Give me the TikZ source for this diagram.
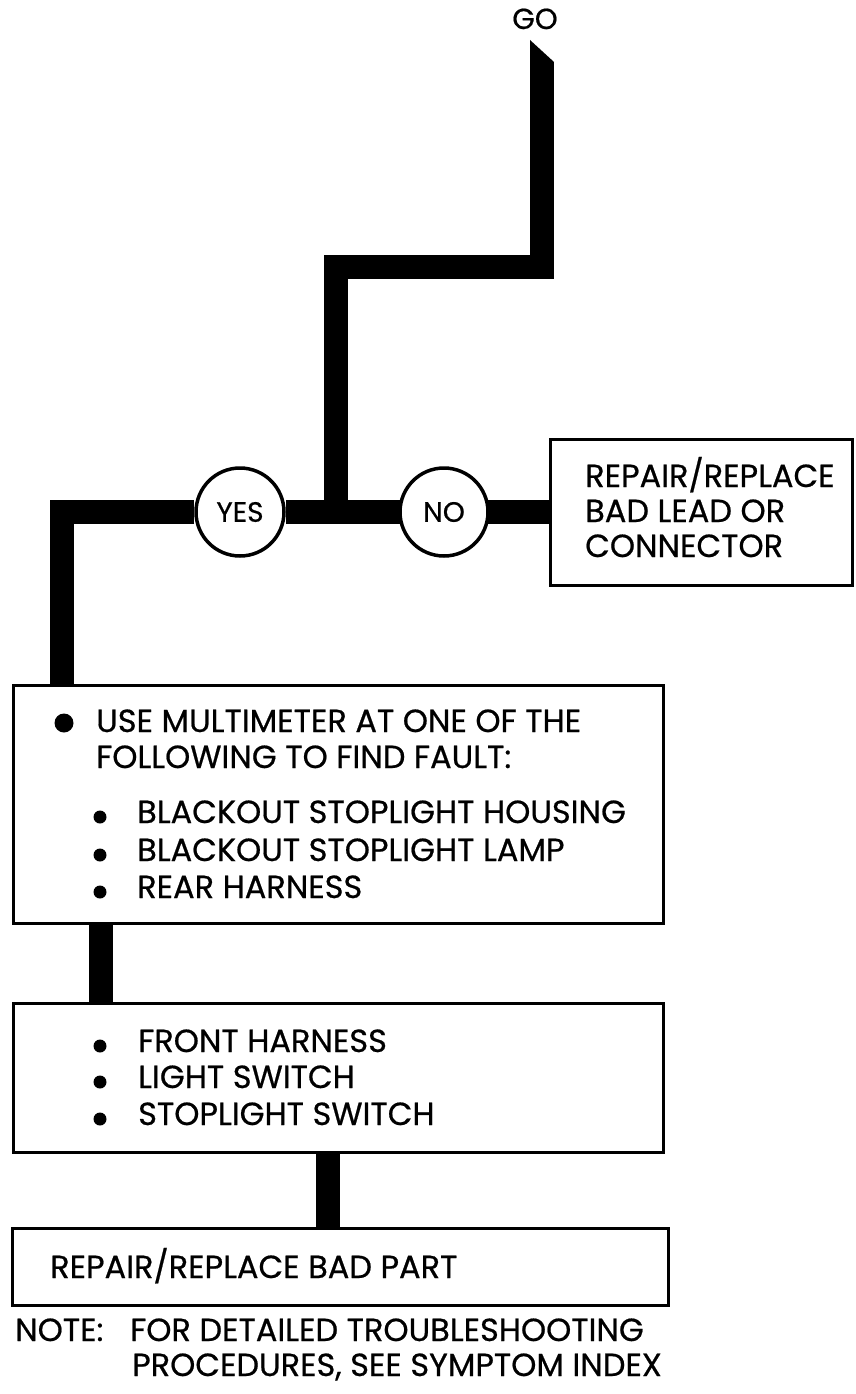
\documentclass[tikz,border=0pt]{standalone}
\usepackage{fontspec}
\setmainfont{Poppins}[FakeBold=0.6]
\usetikzlibrary{positioning,backgrounds}

\begin{document}
\begin{tikzpicture}[x=1pt,y=-1pt,every node/.style={font=\fontsize{32}{37}\selectfont},
  flow/.style={line width=24pt},
  box/.style={draw,line width=3pt,fill=white,inner sep=0pt},
  answer/.style={circle,draw,line width=3.5pt,fill=white,minimum size=88pt,inner sep=0pt,font=\fontsize{28}{33}\selectfont},
  txt/.style={anchor=base west,inner sep=0pt},
  dot/.style={circle,fill,inner sep=0pt,minimum size=13pt}]
\useasboundingbox (0,0) rectangle (856,1394);
% start and answers
\node[anchor=base,inner sep=0pt,font=\fontsize{29}{34}\selectfont] (go) at (535,29) {GO};
\node[answer] (yes) at (240,512) {YES};
\node[answer] (no) at (444,512) {NO};
% boxes
\node[box,minimum width=302pt,minimum height=146pt] (fix) at (701,512) {};
\node[txt] (fix1) at (585,487) {REPAIR/REPLACE};
\node[txt] (fix2) at (585,522) {BAD LEAD OR};
\node[txt] (fix3) at (585,557) {CONNECTOR};
\node[box,minimum width=650pt,minimum height=238pt] (meter) at (338,804) {};
\node[dot,minimum size=19pt] (lead) at (64,723) {};
\node[txt] (use) at (96,732) {USE MULTIMETER AT ONE OF THE};
\node[txt] (follow) at (96,768) {FOLLOWING TO FIND FAULT:};
\node[dot] (d1) at (100,817) {};
\node[txt] (housing) at (137,823) {BLACKOUT STOPLIGHT HOUSING};
\node[dot] (d2) at (100,855) {};
\node[txt] (lamp) at (137,861) {BLACKOUT STOPLIGHT LAMP};
\node[dot] (d3) at (100,892) {};
\node[txt] (rear) at (137,898) {REAR HARNESS};
\node[box,minimum width=650pt,minimum height=149pt] (more) at (338,1077.5) {};
\node[dot] (d4) at (100,1046) {};
\node[txt] (front) at (138,1052) {FRONT HARNESS};
\node[dot] (d5) at (100,1082) {};
\node[txt] (light) at (138,1088) {LIGHT SWITCH};
\node[dot] (d6) at (100,1119) {};
\node[txt] (stop) at (138,1125) {STOPLIGHT SWITCH};
\node[box,minimum width=656pt,minimum height=77pt] (part) at (340,1266.5) {};
\node[txt] (badpart) at (50,1278) {REPAIR/REPLACE BAD PART};
% note
\node[txt] (note) at (15,1341) {NOTE:};
\node[txt] (note1) at (130,1341) {FOR DETAILED TROUBLESHOOTING};
\node[txt] (note2) at (132,1376) {PROCEDURES, SEE SYMPTOM INDEX};
% flow lines
\coordinate (start) at (542,62);
\coordinate (hook) at (336,267);
\coordinate (bend) at (62,512);
\coordinate (drop) at (101,960);
\coordinate (drop2) at (328,1190);
\begin{pgfonlayer}{background}
\fill (530,40) -- (554,62) -- (530,62) -- cycle;
\draw[flow] (start) |- (hook) -- (hook |- yes);
\draw[flow] (yes) -- (fix);
\draw[flow] (yes) -| (bend |- meter.center);
\draw[flow] (drop |- meter.center) -- (drop |- more.center);
\draw[flow] (drop2 |- more.center) -- (drop2 |- part.center);
\end{pgfonlayer}
\end{tikzpicture}
\end{document}
